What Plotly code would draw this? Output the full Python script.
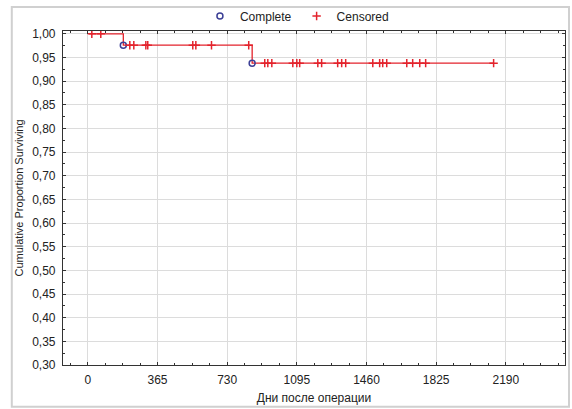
import plotly.graph_objects as go

# --- data ---
event_days = [186, 861]
event_surv = [0.976, 0.938]
censored_days = [21, 68,
                 220, 241, 304, 314, 550, 566, 648, 843,
                 927, 943, 964, 1074, 1095, 1110, 1205, 1225, 1309, 1330, 1351,
                 1493, 1529, 1545, 1566, 1671, 1702, 1739, 1770, 2126]
x_ticks = [0, 365, 730, 1095, 1460, 1825, 2190]
y_ticks = [0.30, 0.35, 0.40, 0.45, 0.50, 0.55, 0.60, 0.65, 0.70, 0.75, 0.80, 0.85, 0.90, 0.95, 1.00]


def surv_at(d):
    s = 1.0
    for ed, es in zip(event_days, event_surv):
        if d >= ed:
            s = es
    return s


censored_surv = [surv_at(d) for d in censored_days]
line_x = [5] + event_days + [max(censored_days)]
line_y = [1.0] + event_surv + [event_surv[-1]]

RED = "#e3232c"
BLUE = "#3c3f96"
FONT = "Liberation Sans, Arial"

fig = go.Figure()
fig.add_trace(go.Scatter(x=line_x, y=line_y, mode="lines", line=dict(color=RED, width=1.3, shape="hv"),
                         showlegend=False, hoverinfo="skip"))
fig.add_trace(go.Scatter(x=event_days, y=event_surv, mode="markers", name="Complete",
                         marker=dict(symbol="circle-open", size=6, color=BLUE, line=dict(width=1.5, color=BLUE))))
fig.add_trace(go.Scatter(x=censored_days, y=censored_surv, mode="markers", name="Censored",
                         marker=dict(symbol="cross-thin", size=6, color=RED, line=dict(width=1.5, color=RED))))

axis_common = dict(showline=True, linecolor="#333", linewidth=1.2, mirror="ticks",
                   ticks="inside", ticklen=3, tickcolor="#333",
                   showgrid=True, gridcolor="#dcdcdc", gridwidth=1, zeroline=False,
                   tickfont=dict(family=FONT, size=12, color="#222"))

fig.update_xaxes(range=[-130, 2500], tickvals=x_ticks, ticktext=[str(v) for v in x_ticks],
                 minor=dict(ticks="inside", ticklen=2, tickcolor="#333", dtick=91.25, showgrid=False),
                 ticklabelstandoff=3,
                 title=dict(text="Дни после операции", font=dict(family=FONT, size=12, color="#222"), standoff=8),
                 **axis_common)
fig.update_yaxes(range=[0.30, 1.006], tickvals=y_ticks, tickformat=".2f",
                 minor=dict(ticks="inside", ticklen=2, tickcolor="#333", dtick=0.025, showgrid=False),
                 ticklabelstandoff=4,
                 title=dict(text="Cumulative Proportion Surviving", font=dict(family=FONT, size=11, color="#222"), standoff=6),
                 **axis_common)

fig.add_shape(type="rect", xref="paper", yref="paper", x0=-0.102, x1=1.008, y0=-0.125, y1=1.072,
              line=dict(color="#d0d0d0", width=2), layer="below")

fig.update_layout(
    width=572, height=409,
    margin=dict(l=63, r=7, t=31, b=44, autoexpand=False),
    paper_bgcolor="white", plot_bgcolor="white",
    separators=", ",
    font=dict(family=FONT, size=12, color="#222"),
    legend=dict(orientation="h", x=0.466, xanchor="center", y=1.045, yanchor="middle",
                font=dict(family=FONT, size=12), bgcolor="rgba(0,0,0,0)", itemwidth=30),
)

fig.write_html("out.html")
